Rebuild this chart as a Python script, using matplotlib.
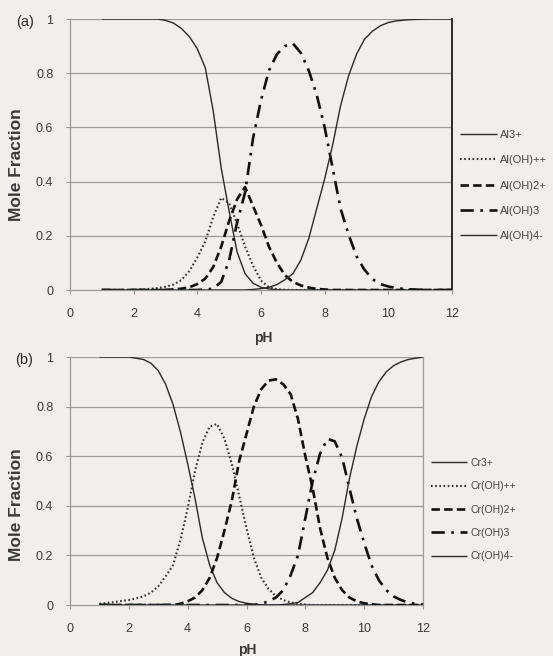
import matplotlib
matplotlib.use("Agg")
import matplotlib.pyplot as plt

plt.rcParams['font.family'] = ['Liberation Sans', 'DejaVu Sans']

# ---------------- data ----------------
ph = [1.0, 1.25, 1.5, 1.75, 2.0, 2.25, 2.5, 2.75, 3.0, 3.25, 3.5, 3.75, 4.0, 4.25,
      4.5, 4.75, 5.0, 5.25, 5.5, 5.75, 6.0, 6.25, 6.5, 6.75, 7.0, 7.25, 7.5, 7.75,
      8.0, 8.25, 8.5, 8.75, 9.0, 9.25, 9.5, 9.75, 10.0, 10.25, 10.5, 10.75, 11.0,
      11.25, 11.5, 11.75, 12.0]

al3 = [1.0] * 8 + [0.995, 0.985, 0.965, 0.935, 0.89, 0.82, 0.66, 0.45, 0.29, 0.14,
                   0.06, 0.025, 0.01, 0.004, 0.001] + [0.0] * 22
al_oh = [0.0] * 5 + [0.002, 0.004, 0.007, 0.012, 0.02, 0.037, 0.07, 0.12, 0.18, 0.27,
                     0.34, 0.32, 0.245, 0.16, 0.09, 0.035, 0.01, 0.003, 0.001] + [0.0] * 21
al_oh2 = [0.0] * 9 + [0.002, 0.005, 0.01, 0.022, 0.042, 0.085, 0.16, 0.255, 0.335, 0.38,
                      0.31, 0.24, 0.16, 0.10, 0.055, 0.03, 0.017, 0.009, 0.004, 0.002] + [0.0] * 16
al_oh3 = [0.0] * 13 + [0.002, 0.005, 0.03, 0.11, 0.25, 0.36, 0.56, 0.70, 0.81, 0.87, 0.90,
                       0.91, 0.875, 0.81, 0.72, 0.60, 0.45, 0.30, 0.205, 0.125, 0.075, 0.04,
                       0.022, 0.013, 0.007, 0.004, 0.002, 0.001] + [0.0] * 4
al_oh4 = [0.0] * 19 + [0.002, 0.005, 0.01, 0.02, 0.038, 0.06, 0.11, 0.19, 0.30, 0.41, 0.535,
                       0.68, 0.79, 0.87, 0.925, 0.955, 0.975, 0.987, 0.993, 0.996, 0.998,
                       0.999, 1.0, 1.0, 1.0, 1.0]

cr3 = [1.0] * 5 + [0.995, 0.99, 0.975, 0.945, 0.89, 0.81, 0.70, 0.57, 0.43, 0.27, 0.16,
                   0.09, 0.05, 0.027, 0.014, 0.007, 0.003, 0.001] + [0.0] * 22
cr_oh = [0.005, 0.008, 0.012, 0.016, 0.02, 0.027, 0.035, 0.05, 0.075, 0.115, 0.16, 0.26,
         0.39, 0.54, 0.655, 0.72, 0.73, 0.67, 0.57, 0.44, 0.31, 0.19, 0.11, 0.065, 0.035,
         0.02, 0.01, 0.005, 0.002] + [0.0] * 16
cr_oh2 = [0.0] * 11 + [0.005, 0.015, 0.03, 0.06, 0.11, 0.19, 0.30, 0.42, 0.58, 0.69, 0.80,
                       0.87, 0.905, 0.91, 0.89, 0.85, 0.75, 0.60, 0.47, 0.31, 0.19, 0.11,
                       0.06, 0.03, 0.015, 0.007, 0.003] + [0.0] * 7
cr_oh3 = [0.0] * 22 + [0.005, 0.015, 0.03, 0.06, 0.12, 0.20, 0.35, 0.50, 0.61, 0.67, 0.66,
                       0.595, 0.47, 0.35, 0.25, 0.16, 0.10, 0.06, 0.035, 0.02, 0.01, 0.005,
                       0.002]
cr_oh4 = [0.0] * 25 + [0.002, 0.005, 0.01, 0.03, 0.05, 0.09, 0.14, 0.22, 0.35, 0.51, 0.64,
                       0.75, 0.84, 0.90, 0.94, 0.965, 0.98, 0.99, 0.995, 1.0]

al_labels = ["Al3+", "Al(OH)++", "Al(OH)2+", "Al(OH)3", "Al(OH)4-"]
cr_labels = ["Cr3+", "Cr(OH)++", "Cr(OH)2+", "Cr(OH)3", "Cr(OH)4-"]
x_ticks = [0, 2, 4, 6, 8, 10, 12]
y_ticks = [0, 0.2, 0.4, 0.6, 0.8, 1.0]
y_tick_labels = ["0", "0.2", "0.4", "0.6", "0.8", "1"]

# ---------------- style ----------------
BG = '#f2eeeb'
styles = [
    dict(color='#2a2a2a', lw=1.0, ls='-'),
    dict(color='#333333', lw=1.5, ls=(0, (0.8, 1.2))),
    dict(color='#111111', lw=1.9, ls=(0, (3.2, 1.6))),
    dict(color='#111111', lw=1.9, ls=(0, (5, 2.5, 1, 2.5))),
    dict(color='#2a2a2a', lw=1.0, ls='-'),
]

W, H = 553, 656
fig = plt.figure(figsize=(W / 100, H / 100), dpi=100, facecolor=BG)


def make_axes(l, r, t, b):
    return fig.add_axes([l / W, 1 - b / H, (r - l) / W, (b - t) / H])


def draw_panel(ax, series, labels, right_black, leg_x, leg_y, leg_fs, leg_sp, leg_hl):
    ax.set_facecolor(BG)
    for yv in y_ticks[1:]:
        ax.axhline(yv, color='#9c9c9c', lw=0.9, zorder=1)
    handles = []
    for s, st, lab in zip(series, styles, labels):
        h, = ax.plot(ph, s, label=lab, zorder=3, solid_capstyle='butt',
                     dash_capstyle='butt', **st)
        handles.append(h)
    ax.set_xlim(0, 12)
    ax.set_ylim(0, 1)
    ax.set_xticks(x_ticks)
    ax.set_xticklabels([str(v) for v in x_ticks])
    ax.set_yticks(y_ticks)
    ax.set_yticklabels(y_tick_labels)
    ax.tick_params(axis='both', colors='#999999', labelcolor='#3a3a3a',
                   labelsize=9, length=3, width=0.8, direction='out')
    ax.tick_params(axis='y', pad=9)
    ax.tick_params(axis='x', pad=10)
    ax.spines['top'].set_visible(False)
    ax.spines['left'].set_color('#999999')
    ax.spines['left'].set_linestyle((0, (1, 1)))
    ax.spines['left'].set_linewidth(0.9)
    ax.spines['bottom'].set_color('#999999')
    ax.spines['bottom'].set_linewidth(0.9)
    if right_black:
        ax.spines['right'].set_color('#1a1a1a')
        ax.spines['right'].set_linewidth(1.3)
    else:
        ax.spines['right'].set_color('#999999')
        ax.spines['right'].set_linestyle((0, (1, 1)))
        ax.spines['right'].set_linewidth(0.9)
    fig.legend(handles=handles, labels=labels, loc='upper left',
               bbox_to_anchor=(leg_x / W, 1 - leg_y / H), frameon=False,
               fontsize=leg_fs, handlelength=leg_hl, handletextpad=0.3,
               labelspacing=leg_sp, borderpad=0, borderaxespad=0,
               labelcolor='#444444')


ax_a = make_axes(70, 452, 19, 290)
draw_panel(ax_a, [al3, al_oh, al_oh2, al_oh3, al_oh4], al_labels, True,
           460, 130, 8.0, 1.38, 3.3)
ax_b = make_axes(70, 423, 357, 605)
draw_panel(ax_b, [cr3, cr_oh, cr_oh2, cr_oh3, cr_oh4], cr_labels, False,
           431, 458, 7.5, 1.28, 3.5)

# axis titles and panel labels
fig.text(17 / W, 1 - 165 / H, "Mole Fraction", rotation=90, ha='center', va='center',
         fontsize=12.5, fontweight='bold', color='#3a3a3a')
fig.text(17 / W, 1 - 505 / H, "Mole Fraction", rotation=90, ha='center', va='center',
         fontsize=12.5, fontweight='bold', color='#3a3a3a')
fig.text(263 / W, 1 - 338 / H, "pH", ha='center', va='center',
         fontsize=10, fontweight='bold', color='#3a3a3a')
fig.text(247 / W, 1 - 650 / H, "pH", ha='center', va='center',
         fontsize=10, fontweight='bold', color='#3a3a3a')
fig.text(25 / W, 1 - 22 / H, "(a)", ha='center', va='center', fontsize=10.5, color='#2a2a2a')
fig.text(24 / W, 1 - 360 / H, "(b)", ha='center', va='center', fontsize=10.5, color='#2a2a2a')

fig.savefig("out.png", dpi=100, facecolor=BG)
